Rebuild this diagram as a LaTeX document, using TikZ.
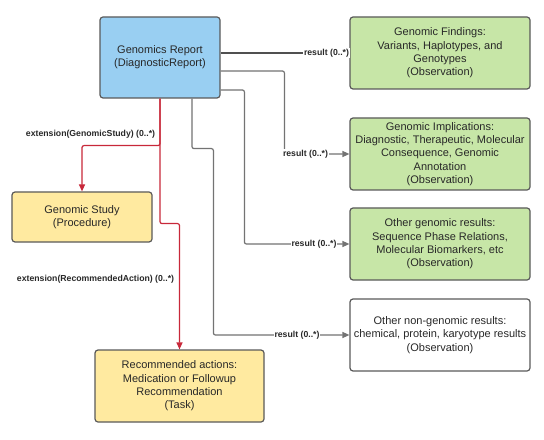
\documentclass[tikz,border=0pt]{standalone}
\usepackage{fontspec}
\setmainfont{Liberation Sans}
\usetikzlibrary{arrows.meta,calc}
\definecolor{bluefill}{RGB}{153,207,242}
\definecolor{greenfill}{RGB}{199,230,167}
\definecolor{yellowfill}{RGB}{255,234,160}
\definecolor{edgegray}{RGB}{90,90,90}
\definecolor{conngray}{RGB}{115,115,115}
\definecolor{conndark}{RGB}{80,80,80}
\definecolor{connred}{RGB}{200,40,58}
\definecolor{txt}{RGB}{40,40,40}
\begin{document}
\begin{tikzpicture}[x=1bp,y=-1bp,
 box/.style={draw=edgegray, line width=1.2bp, rounded corners=3bp, align=center, text=txt,
   font=\fontsize{11bp}{13.3bp}\selectfont, inner sep=0pt},
 conn/.style={draw=conngray, line width=1.2bp, rounded corners=2bp, -{Triangle[length=7bp,width=6bp]}},
 redconn/.style={conn, draw=connred},
 lbl/.style={fill=white, inner sep=0.6bp, font=\fontsize{8.7bp}{10bp}\selectfont\bfseries, text=txt}]
\useasboundingbox[fill=white] (0,0) rectangle (544,440);

% boxes
\node[box, fill=bluefill, minimum width=120bp, minimum height=81bp] (gr) at (160,57.5)
  {Genomics Report\\(DiagnosticReport)};
\node[box, fill=greenfill, minimum width=180bp, minimum height=72bp] (fin) at (440,53)
  {Genomic Findings:\\Variants, Haplotypes, and\\Genotypes\\(Observation)};
\node[box, fill=greenfill, minimum width=180bp, minimum height=72bp] (imp) at (440,154)
  {Genomic Implications:\\Diagnostic, Therapeutic, Molecular\\Consequence, Genomic\\Annotation\\(Observation)};
\node[box, fill=greenfill, minimum width=180bp, minimum height=72bp] (oth) at (440,244)
  {Other genomic results:\\Sequence Phase Relations,\\Molecular Biomarkers, etc\\(Observation)};
\node[box, fill=white, minimum width=180bp, minimum height=72bp] (non) at (440,335)
  {Other non-genomic results:\\chemical, protein, karyotype results\\(Observation)};
\node[box, fill=yellowfill, minimum width=140bp, minimum height=50bp] (gs) at (82,217)
  {Genomic Study\\(Procedure)};
\node[box, fill=yellowfill, minimum width=169bp, minimum height=72bp] (rec) at (179.5,386)
  {Recommended actions:\\Medication or Followup\\Recommendation\\(Task)};

% result connectors
\draw[conn, draw=conndark, line width=1.6bp] (gr.east |- fin.west) -- (fin.west);
\draw[conn] ($(gr.east)+(0,13.5)$) -| ($(imp.west)+(-65,0)$) -- (imp.west);
\draw[conn] ($(gr.east)+(0,32.5)$) -| ($(oth.west)+(-105,0)$) -- (oth.west);
\draw[conn] ($(gr.south)+(32,0)$) -- ++(0,50) -| ($(non.west)+(-136,0)$) -- (non.west);

% extension connectors
\draw[redconn] (gr.south) -- ++(0,47) -| (gs.north);
\draw[redconn] (gr.south) -- ++(0,125) -| (rec.north);

% labels
\node[lbl] (l1) at (326.5,53) {result (0..*)};
\node[lbl] (l2) at (305.5,154) {result (0..*)};
\node[lbl] (l3) at (314,244) {result (0..*)};
\node[lbl] (l4) at (297,335) {result (0..*)};
\node[lbl, fill=none] (l5) at (90.5,134) {extension(GenomicStudy) (0..*)};
\node[lbl, fill=none] (l6) at (95.5,279) {extension(RecommendedAction) (0..*)};
\end{tikzpicture}
\end{document}
